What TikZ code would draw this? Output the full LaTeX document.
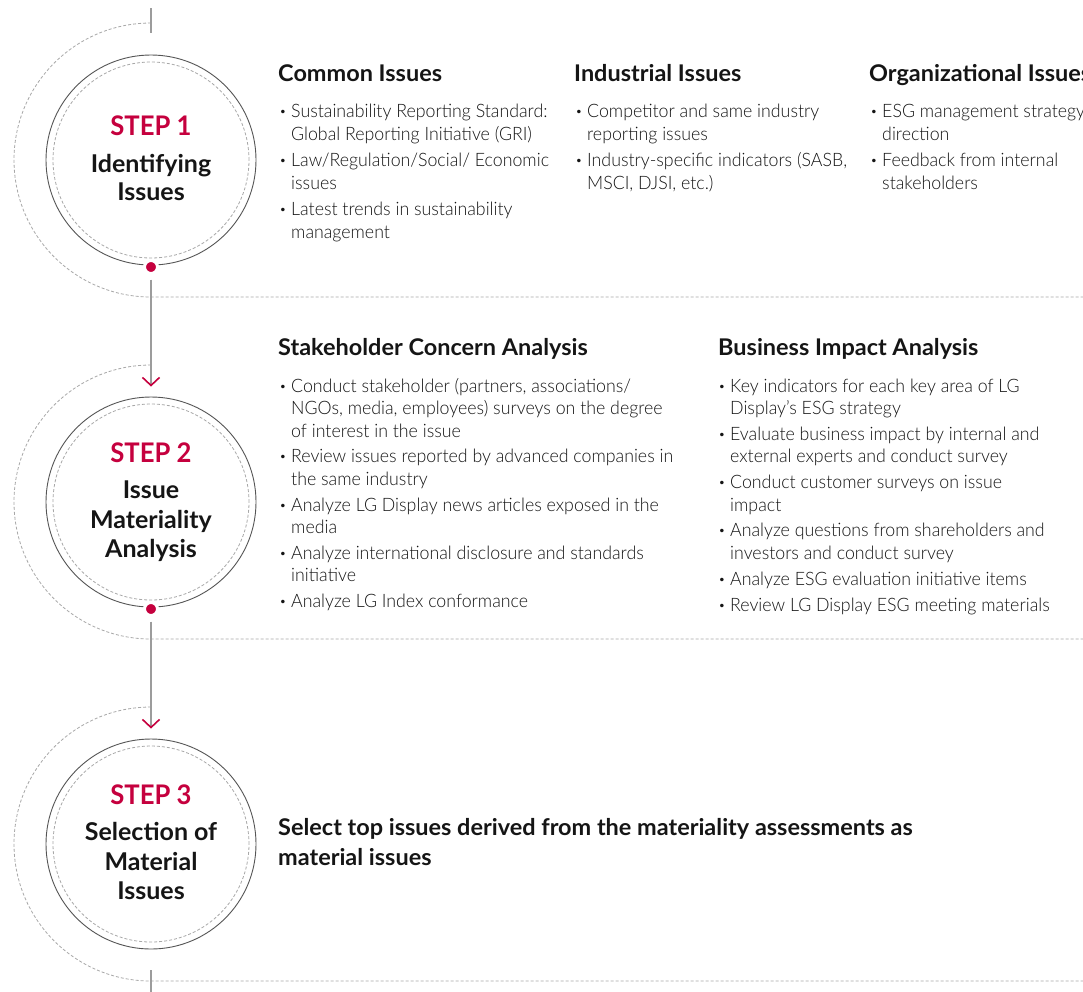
\documentclass[tikz,border=0pt]{standalone}
\usepackage{fontspec}
\setmainfont{Lato Light}[BoldFont={Lato Bold}, FakeStretch=0.96]
\newfontfamily\hdfont{Lato Bold}[FakeStretch=1.02]
\newfontfamily\stepfont{Lato Bold}[FakeStretch=0.95]
\usetikzlibrary{arrows.meta}
\definecolor{lgred}{HTML}{C5003E}
\definecolor{ringc}{HTML}{555555}
\definecolor{dashc}{HTML}{A8A8A8}
\definecolor{linec}{HTML}{9C9C9C}
\definecolor{ink}{HTML}{151515}
\begin{document}
\begin{tikzpicture}[x=1pt,y=1pt,
  ring/.style={circle, draw=ringc, line width=0.9pt, minimum size=210pt, inner sep=0pt},
  dsh/.style={dashc, line width=0.8pt, dash pattern=on 3pt off 2pt},
  stem/.style={linec, line width=1.2pt},
  conn/.style={linec, line width=1.4pt, shorten <=4.5pt, shorten >=10pt,
    -{Straight Barb[color=lgred, length=8pt, width=17pt, line width=1.6pt]}},
  reddot/.style={circle, fill=lgred, draw=white, line width=3pt, minimum size=13pt, inner sep=0pt},
  stepl/.style={anchor=base, inner sep=0pt, text=lgred, font=\stepfont\fontsize{27}{32}\selectfont},
  ttl/.style={anchor=base, inner sep=0pt, text=ink, font=\hdfont\fontsize{24.5}{29}\selectfont},
  hd/.style={anchor=base west, inner sep=0pt, text=ink, font=\hdfont\fontsize{23}{27}\selectfont},
  txt/.style={anchor=base west, inner sep=0pt, text=ink, font=\fontsize{18.5}{22}\selectfont},
  bul/.style={anchor=base, inner sep=0pt, text=ink, font=\hdfont\fontsize{18.5}{22}\selectfont},
]
\useasboundingbox (0,0) rectangle (1083,-991);
\fill[white] (0,0) rectangle (1083,-991);
\clip (0,0) rectangle (1083,-991);

% ---------- rings ----------
\node[ring] (s1) at (151,-160) {};
\node[ring] (s2) at (151,-502) {};
\node[ring] (s3) at (151,-844) {};
\foreach \s in {s1,s2,s3} {
  \draw[dsh] (\s.center) circle[radius=98];
}
\coordinate (a1) at (151,-23);
\coordinate (a2) at (151,-365);
\coordinate (a3) at (151,-707);
\foreach \a in {a1,a2,a3} {
  \draw[dsh] (\a) arc[start angle=90, end angle=270, radius=137] -- ++(1000,0);
}

% stems
\coordinate (t0) at (151,-8);
\coordinate (t1) at (151,-33);
\draw[stem] (t0) -- (t1);
\coordinate (b0) at (151,-970);
\coordinate (b1) at (151,-995);
\draw[stem] (b0) -- (b1);

% dots and connectors
\node[reddot] (d1) at (151,-267) {};
\node[reddot] (d2) at (151,-609) {};
\draw[conn] (d1) -- (s2);
\draw[conn] (d2) -- (s3);

% ---------- circle texts ----------
\node[stepl] (st1) at (151,-135) {STEP 1};
\node[ttl] (t1a) at (151,-172) {Identifying};
\node[ttl] (t1b) at (151,-200) {Issues};

\node[stepl] (st2) at (151,-462) {STEP 2};
\node[ttl] (t2a) at (151,-498) {Issue};
\node[ttl] (t2b) at (151,-528) {Materiality};
\node[ttl] (t2c) at (151,-557) {Analysis};

\node[stepl] (st3) at (151,-804) {STEP 3};
\node[ttl] (t3a) at (151,-840) {Selection of};
\node[ttl] (t3b) at (151,-870) {Material};
\node[ttl] (t3c) at (151,-899) {Issues};

% ---------- step 1 columns ----------
\node[hd] (h1) at (278,-81) {Common Issues};
\node[hd] (h2) at (574,-81) {Industrial Issues};
\node[hd] (h3) at (869,-81) {Organizational Issues};

\node[bul] (b1a) at (283,-117) {·};
\node[txt] (c1a) at (291,-117) {Sustainability Reporting Standard:};
\node[txt] (c1b) at (291,-140) {Global Reporting Initiative (GRI)};
\node[bul] (b1c) at (283,-166) {·};
\node[txt] (c1c) at (291,-166) {Law/Regulation/Social/ Economic};
\node[txt] (c1d) at (291,-189) {issues};
\node[bul] (b1e) at (283,-215) {·};
\node[txt] (c1e) at (291,-215) {Latest trends in sustainability};
\node[txt] (c1f) at (291,-238) {management};

\node[bul] (b2a) at (579,-117) {·};
\node[txt] (c2a) at (587,-117) {Competitor and same industry};
\node[txt] (c2b) at (587,-140) {reporting issues};
\node[bul] (b2c) at (579,-166) {·};
\node[txt] (c2c) at (587,-166) {Industry-specific indicators (SASB,};
\node[txt] (c2d) at (587,-189) {MSCI, DJSI, etc.)};

\node[bul] (b3a) at (874,-117) {·};
\node[txt] (c3a) at (882,-117) {ESG management strategy};
\node[txt] (c3b) at (882,-140) {direction};
\node[bul] (b3c) at (874,-166) {·};
\node[txt] (c3c) at (882,-166) {Feedback from internal};
\node[txt] (c3d) at (882,-189) {stakeholders};

% ---------- step 2 columns ----------
\node[hd] (h4) at (278,-355) {Stakeholder Concern Analysis};
\node[hd] (h5) at (718,-355) {Business Impact Analysis};

\node[bul] (b4a) at (283,-392) {·};
\node[txt] (c4a) at (291,-392) {Conduct stakeholder (partners, associations/};
\node[txt] (c4b) at (291,-414.5) {NGOs, media, employees) surveys on the degree};
\node[txt] (c4c) at (291,-437) {of interest in the issue};
\node[bul] (b4d) at (283,-462.8) {·};
\node[txt] (c4d) at (291,-462.8) {Review issues reported by advanced companies in};
\node[txt] (c4e) at (291,-485.3) {the same industry};
\node[bul] (b4f) at (283,-511.1) {·};
\node[txt] (c4f) at (291,-511.1) {Analyze LG Display news articles exposed in the};
\node[txt] (c4g) at (291,-533.6) {media};
\node[bul] (b4h) at (283,-559.4) {·};
\node[txt] (c4h) at (291,-559.4) {Analyze international disclosure and standards};
\node[txt] (c4i) at (291,-581.9) {initiative};
\node[bul] (b4j) at (283,-607.7) {·};
\node[txt] (c4j) at (291,-607.7) {Analyze LG Index conformance};

\node[bul] (b5a) at (722,-392) {·};
\node[txt] (c5a) at (730,-392) {Key indicators for each key area of LG};
\node[txt] (c5b) at (730,-414.5) {Display's ESG strategy};
\node[bul] (b5c) at (722,-440.3) {·};
\node[txt] (c5c) at (730,-440.3) {Evaluate business impact by internal and};
\node[txt] (c5d) at (730,-462.8) {external experts and conduct survey};
\node[bul] (b5e) at (722,-488.6) {·};
\node[txt] (c5e) at (730,-488.6) {Conduct customer surveys on issue};
\node[txt] (c5f) at (730,-511.1) {impact};
\node[bul] (b5g) at (722,-536.9) {·};
\node[txt] (c5g) at (730,-536.9) {Analyze questions from shareholders and};
\node[txt] (c5h) at (730,-559.4) {investors and conduct survey};
\node[bul] (b5i) at (722,-585.2) {·};
\node[txt] (c5i) at (730,-585.2) {Analyze ESG evaluation initiative items};
\node[bul] (b5j) at (722,-611) {·};
\node[txt] (c5j) at (730,-611) {Review LG Display ESG meeting materials};

% ---------- step 3 ----------
\node[hd] (h6) at (278,-835) {Select top issues derived from the materiality assessments as};
\node[hd] (h7) at (278,-865) {material issues};
\end{tikzpicture}
\end{document}
